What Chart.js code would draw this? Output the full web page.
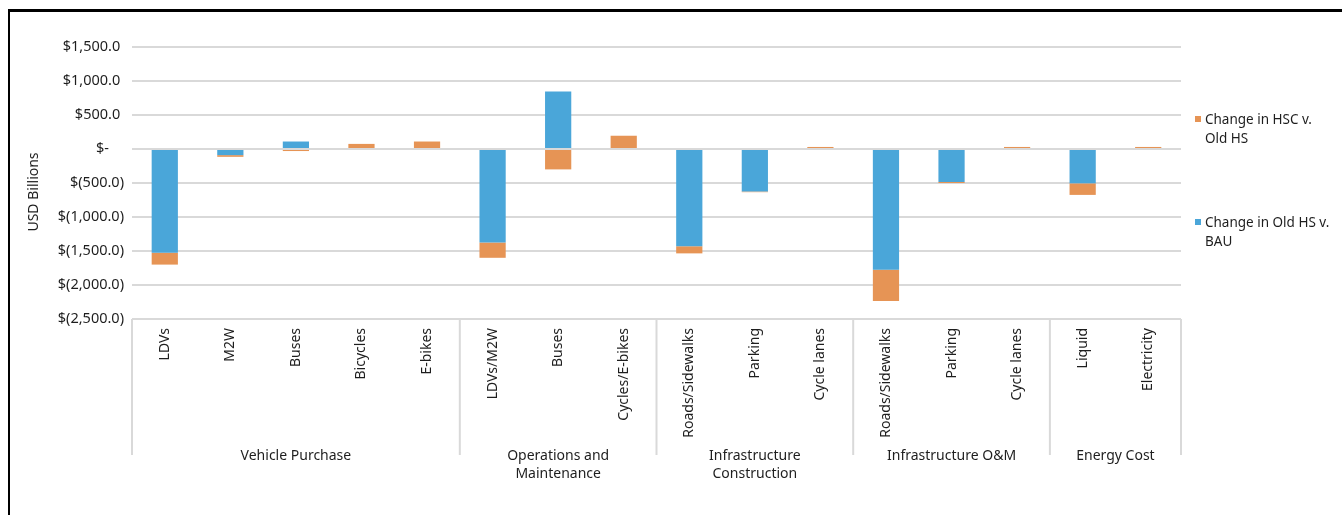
<!DOCTYPE html>
<html>
<head>
<meta charset="utf-8">
<script src="https://cdn.jsdelivr.net/npm/chart.js@4.4.0/dist/chart.umd.min.js"></script>
<style>
  html, body { margin: 0; padding: 0; background: #fff; }
  #wrap { position: relative; width: 1342px; height: 515px; overflow: hidden; font-family: "Noto Sans", sans-serif; }
  #frame { position: absolute; left: 8px; top: 9px; right: -10px; bottom: -10px; border-left: 2px solid #000; border-top: 3px solid #000; pointer-events: none; }
  #legend { position: absolute; left: 1195px; top: 0; font-size: 13.5px; color: #1e1e1e; }
  .item { position: absolute; left: 0; width: 145px; line-height: 19px; padding-left: 10px; white-space: nowrap; }
  .box { position: absolute; left: 0; top: 6px; width: 6px; height: 6px; }
</style>
</head>
<body>
<div id="wrap">
  <canvas id="chart" width="1342" height="515"></canvas>
  <div id="legend"></div>
  <div id="frame"></div>
</div>
<script>
const categories = ['LDVs', 'M2W', 'Buses', 'Bicycles', 'E-bikes',
  'LDVs/M2W', 'Buses', 'Cycles/E-bikes',
  'Roads/Sidewalks', 'Parking', 'Cycle lanes',
  'Roads/Sidewalks', 'Parking', 'Cycle lanes',
  'Liquid', 'Electricity'];
const groups = [
  { lines: ['Vehicle Purchase'], count: 5 },
  { lines: ['Operations and', 'Maintenance'], count: 3 },
  { lines: ['Infrastructure', 'Construction'], count: 3 },
  { lines: ['Infrastructure O&M'], count: 3 },
  { lines: ['Energy Cost'], count: 2 }
];
// USD billions
const oldHsVsBau = [-1525, -90, 110, 0, 0, -1375, 845, 0, -1430, -625, 0, -1775, -485, 0, -505, 0];
const hscVsOldHs = [-175, -25, -30, 75, 110, -225, -300, 195, -105, -10, 30, -460, -15, 30, -170, 30];

const yTickValues = [1500, 1000, 500, 0, -500, -1000, -1500, -2000, -2500];
const yTickLabels = ['$1,500.0 ', '$1,000.0 ', '$500.0 ', '$-    ', '$(500.0)', '$(1,000.0)', '$(1,500.0)', '$(2,000.0)', '$(2,500.0)'];

const blue = '#4aa6d9';
const orange = '#e69455';
const legendItems = [
  { lines: ['Change in HSC v.', 'Old HS'], color: orange, top: 110 },
  { lines: ['Change in Old HS v.', 'BAU'], color: blue, top: 213 }
];

const legendEl = document.getElementById('legend');
legendItems.forEach(it => {
  const d = document.createElement('div');
  d.className = 'item';
  d.style.top = it.top + 'px';
  d.innerHTML = '<span class="box" style="background:' + it.color + '"></span>' + it.lines.join('<br>');
  legendEl.appendChild(d);
});

const textColor = '#1e1e1e';
const gridColor = '#d9d9d9';

const groupAxis = {
  id: 'groupAxis',
  afterDraw(chart) {
    const { ctx, chartArea } = chart;
    const x = chart.scales.x;
    const half = (x.getPixelForValue(1) - x.getPixelForValue(0)) / 2;
    ctx.save();
    ctx.strokeStyle = gridColor;
    ctx.lineWidth = 2;
    ctx.fillStyle = textColor;
    ctx.font = '14px "Noto Sans"';
    ctx.textAlign = 'center';
    ctx.textBaseline = 'middle';
    let idx = 0;
    const edges = [x.getPixelForValue(0) - half];
    groups.forEach(g => {
      const left = x.getPixelForValue(idx) - half;
      idx += g.count;
      const right = x.getPixelForValue(idx - 1) + half;
      edges.push(right);
      g.lines.forEach((line, i) => ctx.fillText(line, (left + right) / 2, 456 + i * 18));
    });
    edges.forEach(px => {
      ctx.beginPath();
      ctx.moveTo(px, chartArea.bottom);
      ctx.lineTo(px, 455);
      ctx.stroke();
    });
    // y axis title
    ctx.translate(34, 192);
    ctx.rotate(-Math.PI / 2);
    ctx.fillText('USD Billions', 0, 0);
    ctx.restore();
  }
};

new Chart(document.getElementById('chart'), {
  type: 'bar',
  data: {
    labels: categories,
    datasets: [
      { label: 'Change in Old HS v. BAU', data: oldHsVsBau, backgroundColor: blue, stack: 's' },
      { label: 'Change in HSC v. Old HS', data: hscVsOldHs, backgroundColor: orange, stack: 's' }
    ]
  },
  options: {
    responsive: false,
    animation: false,
    layout: { padding: { left: 0, top: 47, right: 161, bottom: 0 } },
    datasets: { bar: { barPercentage: 0.4, categoryPercentage: 1, borderWidth: 0 } },
    scales: {
      x: {
        stacked: true,
        grid: { display: false },
        border: { display: false },
        ticks: {
          autoSkip: false, minRotation: 90, maxRotation: 90, padding: 1,
          color: textColor, font: { family: 'Noto Sans', size: 14 }
        },
        afterFit: s => { s.height = 196; }
      },
      y: {
        stacked: true,
        min: -2500, max: 1500,
        grid: { color: gridColor, lineWidth: 2, drawTicks: false },
        border: { display: false },
        ticks: {
          stepSize: 500, padding: 8, color: textColor,
          font: { family: 'Noto Sans', size: 14.5 },
          callback: v => yTickLabels[yTickValues.indexOf(v)]
        },
        afterFit: s => { s.width = 132; }
      }
    },
    plugins: {
      legend: { display: false },
      tooltip: { enabled: true }
    }
  },
  plugins: [groupAxis]
});
</script>
</body>
</html>
